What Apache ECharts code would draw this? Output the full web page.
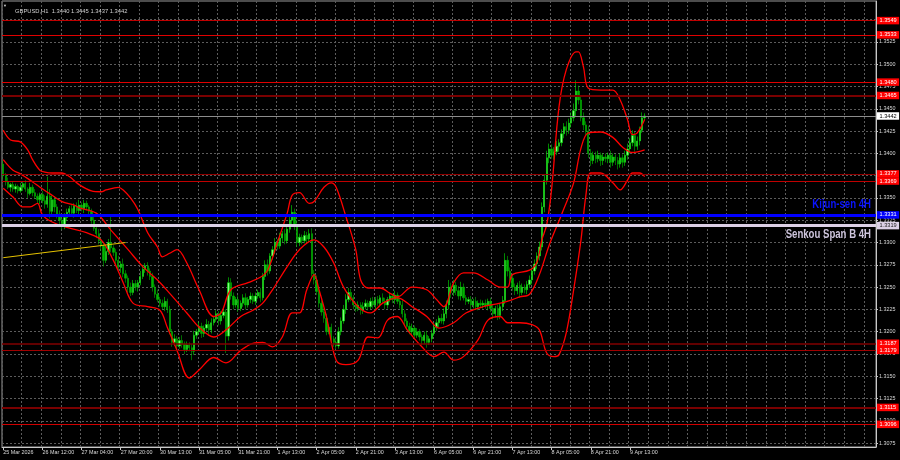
<!DOCTYPE html>
<html>
<head>
<meta charset="utf-8">
<script src="https://cdn.jsdelivr.net/npm/echarts@6/dist/echarts.min.js"></script>
<style>
html,body{margin:0;padding:0;background:#000;}
#c{width:900px;height:460px;}
</style>
</head>
<body>
<div id="c"></div>
<script>
// ---------- DATA ----------
const symbolName = 'GBPUSD,H1';
const tickLabels = ['25 Mar 2026','26 Mar 12:00','27 Mar 04:00','27 Mar 20:00','30 Mar 13:00','31 Mar 05:00','31 Mar 21:00','1 Apr 13:00','2 Apr 05:00','2 Apr 21:00','3 Apr 13:00','6 Apr 05:00','6 Apr 21:00','7 Apr 13:00','8 Apr 05:00','8 Apr 21:00','9 Apr 13:00'];
const yTicks = [1.3075,1.3100,1.3125,1.3150,1.3175,1.3200,1.3225,1.3250,1.3275,1.3300,1.3325,1.3350,1.3375,1.3400,1.3425,1.3450,1.3475,1.3500,1.3525,1.3550];

const firstOpen = 1.3388;
const closes = [
1.3375,1.3368,1.3362,1.3365,1.3360,1.3363,1.3358,1.3362,
1.3366,1.3360,1.3355,1.3362,1.3356,
1.3352,1.3348,1.3354,1.3347,
1.3343,1.3352,1.3335,1.3348,1.3340,1.3332,
1.3325,1.3318,1.3328,1.3334,
1.3338,1.3333,1.3341,1.3336,1.3342,1.3338,1.3344,1.3340,1.3335,
1.3325,1.3316,1.3310,
1.3302,1.3296,1.3280,
1.3290,1.3300,1.3294,1.3289,
1.3280,1.3272,1.3276,1.3265,1.3260,
1.3250,1.3244,1.3254,
1.3250,1.3255,1.3262,
1.3270,1.3274,1.3268,1.3262,
1.3250,1.3242,1.3236,
1.3232,1.3228,1.3234,1.3225,
1.3200,1.3188,
1.3192,1.3184,1.3190,1.3186,1.3180,1.3185,1.3182,
1.3178,1.3196,
1.3200,1.3206,1.3198,1.3204,1.3208,1.3202,1.3210,1.3214,
1.3220,1.3212,1.3218,1.3222,
1.3195,1.3255,
1.3240,1.3230,1.3236,1.3226,
1.3232,1.3238,1.3230,1.3236,1.3240,1.3234,
1.3240,1.3244,1.3238,1.3262,
1.3275,1.3268,1.3285,1.3292,
1.3300,1.3296,1.3305,1.3310,1.3302,1.3315,
1.3325,1.3334,1.3320,
1.3300,1.3306,
1.3302,1.3308,1.3304,1.3310,
1.3265,1.3258,
1.3245,1.3232,1.3222,
1.3215,1.3200,1.3205,1.3192,
1.3188,1.3184,1.3200,
1.3212,1.3225,1.3236,
1.3244,1.3238,1.3230,
1.3226,1.3230,1.3224,1.3228,1.3232,
1.3228,1.3234,1.3230,1.3236,1.3232,1.3238,1.3234,1.3230,1.3236,
1.3240,1.3236,1.3241,1.3234,1.3230,
1.3220,1.3212,1.3206,
1.3200,1.3204,1.3196,1.3200,1.3194,
1.3190,1.3196,1.3188,1.3192,1.3198,1.3205,
1.3210,1.3215,1.3212,1.3220,1.3230,
1.3250,1.3244,1.3252,1.3246,
1.3240,1.3250,1.3238,1.3234,
1.3236,1.3230,1.3234,1.3228,1.3232,1.3230,
1.3232,1.3229,1.3234,1.3226,
1.3220,1.3226,1.3218,
1.3228,1.3235,
1.3280,1.3268,1.3260,1.3250,
1.3246,1.3252,1.3244,1.3250,1.3247,1.3253,1.3258,
1.3268,1.3276,1.3285,1.3295,
1.3340,1.3370,
1.3395,1.3405,1.3398,
1.3402,1.3408,1.3412,
1.3422,1.3430,1.3426,1.3434,
1.3440,1.3448,
1.3470,1.3460,
1.3440,1.3432,1.3425,
1.3400,1.3392,1.3398,
1.3394,1.3398,1.3392,1.3396,
1.3394,1.3398,1.3390,1.3396,1.3392,1.3388,1.3395,
1.3390,1.3398,1.3405,
1.3412,1.3420,1.3408,
1.3414,1.3426,1.3440,
1.3442];
// upper wick above body, in pips
const upWickPips = [
4,3,5,2,4,3,2,5, 3,4,2,5,3, 4,3,2,4, 6,22,8,5,4,3, 4,3,5,4, 3,5,3,4,6,3,4,3,2, 3,4,2, 5,3,4, 6,4,29,3,
4,5,3,6,4, 3,5,4, 4,3,6, 5,3,4,3, 4,3,5, 3,4,5,3, 4,3, 5,3,4,6,3,4,3, 4,5, 3,5,4,3,6,4,5,3, 4,3,5,4,
3,6, 5,4,3,5, 3,4,5,3,4,3, 4,3,5,4, 5,6,3,4, 5,4,6,3,5,4, 6,8,4, 5,4, 3,5,4,5, 6,4, 5,4,3, 4,5,3,4,
3,4,5, 4,5,6, 5,4,3, 3,4,3,5,4, 3,4,5,3,4,3,5,4,3, 4,3,5,3,4, 5,4,3, 4,5,3,4,3, 3,4,5,3,4,5,
4,3,5,6,5, 8,5,6,4, 5,6,4,3, 3,4,3,5,3,4, 3,4,3,4, 5,3,4, 4,5, 8,5,4,5, 4,3,5,4,3,4,5, 4,5,4,6,
5,6, 8,6,5, 5,6,4, 5,4,6,5, 6,8, 12,6, 5,6,4, 6,5,4, 4,5,3,4, 4,3,5,4,3,4,5, 4,5,6, 5,6,4, 5,4,6, 3];
// lower wick below body, in pips
const downWickPips = [
4,4,2,5,3,4,3,2, 4,3,5,2,4, 3,4,5,3, 5,4,8,3,6,5, 6,4,3,4, 4,3,5,3,4,3,5,4,3, 4,3,5, 4,5,7, 3,4,5,4,
5,3,6,4,5, 6,4,3, 4,5,3, 3,4,5,4, 5,4,3, 4,3,5,4, 3,5, 4,6,3,4,5,3,4, 10,4, 4,3,5,4,3,5,4,3, 3,5,4,3,
19,5, 4,5,3,4, 3,4,5,3,4,3, 4,3,5,3, 4,5,3,4, 5,4,3,5,4,3, 4,5,6, 5,4, 4,3,5,4, 3,5, 4,5,4, 5,4,3,6,
5,4,3, 4,3,5, 3,4,5, 4,3,5,4,3, 4,3,4,5,3,4,3,5,4, 3,4,5,3,4, 4,5,4, 3,4,5,3,4, 5,4,6,3,4,3,
4,5,3,4,5, 5,6,4,5, 4,5,3,4, 3,5,4,3,4,3, 4,3,5,4, 6,4,5, 4,5, 4,6,5,4, 5,4,6,3,4,5,4, 5,4,6,5,
4,6, 5,6,4, 5,4,6, 4,5,6,4, 5,4, 6,5, 4,6,5, 5,6,4, 5,4,6,5, 4,5,6,4,5,6,4, 6,4,5, 5,4,6, 4,5,3, 3];

// Bollinger bands: [bar index, price]
const bbUpper = [[0,1.3426],[3,1.3415],[7,1.3413],[10,1.3404],[12,1.3393],[15,1.3381],[17,1.3379],[20,1.3378],[24,1.3378],[27,1.3374],[31,1.3365],[36,1.3358],[40,1.3357],[42,1.3359],[47,1.3362],[49,1.3359],[52,1.3350],[55,1.3337],[59,1.3311],[63,1.3295],[65,1.3284],[68,1.3288],[71,1.3292],[75,1.3277],[80,1.3247],[86,1.3217],[89,1.3221],[93,1.3247],[100,1.3255],[105,1.3261],[108,1.3269],[112,1.3300],[116,1.3333],[118,1.3353],[121,1.3356],[125,1.3344],[127,1.3346],[131,1.3362],[134,1.3367],[136,1.3362],[140,1.3329],[144,1.3292],[146,1.3258],[149,1.3249],[154,1.3249],[158,1.3243],[161,1.3239],[167,1.3250],[173,1.3247],[177,1.3236],[180,1.3228],[184,1.3255],[188,1.3266],[192,1.3266],[198,1.3258],[203,1.3250],[206,1.3250],[208,1.3264],[215,1.3269],[218,1.3278],[220,1.3303],[222,1.3320],[224,1.3360],[227,1.3452],[230,1.3494],[234,1.3514],[235,1.3514],[237,1.3497],[239,1.3473],[244,1.3471],[249,1.3471],[252,1.3460],[255,1.3438],[257,1.3421],[259,1.3423],[262,1.3438]];
const bbMiddle = [[0,1.3393],[4,1.3381],[7,1.3377],[12,1.3368],[15,1.3362],[20,1.3353],[24,1.3346],[29,1.3342],[31,1.3339],[38,1.3333],[44,1.3314],[51,1.3292],[57,1.3273],[63,1.3258],[68,1.3243],[75,1.3221],[80,1.3205],[86,1.3194],[91,1.3202],[97,1.3217],[102,1.3224],[106,1.3232],[110,1.3247],[116,1.3273],[121,1.3292],[127,1.3303],[131,1.3295],[135,1.3277],[139,1.3250],[145,1.3228],[150,1.3221],[155,1.3232],[161,1.3238],[167,1.3228],[173,1.3217],[178,1.3204],[184,1.3210],[189,1.3221],[196,1.3228],[203,1.3232],[208,1.3236],[211,1.3239],[215,1.3242],[219,1.3264],[223,1.3297],[228,1.3331],[233,1.3367],[236,1.3406],[239,1.3423],[244,1.3424],[249,1.3418],[253,1.3407],[257,1.3401],[262,1.3404]];
const bbLower = [[0,1.3361],[4,1.3351],[8,1.3340],[11,1.3340],[14,1.3344],[16,1.3331],[20,1.3323],[26,1.3317],[34,1.3311],[40,1.3303],[45,1.3280],[49,1.3255],[53,1.3232],[59,1.3228],[64,1.3224],[67,1.3205],[71,1.3179],[76,1.3148],[80,1.3157],[86,1.3171],[91,1.3165],[97,1.3179],[102,1.3187],[106,1.3188],[110,1.3183],[114,1.3194],[118,1.3221],[121,1.3221],[124,1.3247],[127,1.3264],[129,1.3247],[132,1.3217],[136,1.3168],[140,1.3163],[145,1.3168],[149,1.3194],[153,1.3193],[157,1.3213],[161,1.3217],[165,1.3202],[171,1.3183],[176,1.3172],[180,1.3177],[184,1.3168],[188,1.3172],[194,1.3191],[198,1.3213],[203,1.3217],[206,1.3210],[211,1.3210],[216,1.3208],[219,1.3202],[222,1.3176],[225,1.3172],[227,1.3174],[230,1.3199],[233,1.3247],[236,1.3303],[238,1.3353],[240,1.3378],[244,1.3378],[249,1.3367],[252,1.3359],[255,1.3370],[257,1.3378],[260,1.3378],[262,1.3374]];
const trendLine = [[0,1.3283],[50,1.3300]];

const levels = [1.3549,1.3533,1.3480,1.3465,1.3377,1.3369,1.3187,1.3179,1.3115,1.3096];
const kijun4H = 1.3331;
const senkouB4H = 1.3319;
const kijunText = 'Kijun-sen 4H';
const senkouText = 'Senkou Span B 4H';

// ---------- BUILD ----------
const TOTAL_SLOTS = 357;
const FONT = "'Liberation Sans', Arial, sans-serif";
const cats = Array.from({length: TOTAL_SLOTS}, (_, i) => String(i));
const opens = [firstOpen].concat(closes.slice(0, -1));
const candles = closes.map((c, i) => {
  const o = opens[i];
  const hi = Math.max(o, c) + upWickPips[i] * 0.0001;
  const lo = Math.min(o, c) - downWickPips[i] * 0.0001;
  return [o, c, +lo.toFixed(5), +hi.toFixed(5)];
});
const last = candles[candles.length - 1];
const headerText = symbolName + '  ' + [last[0], last[3], last[2], last[1]].map(v => v.toFixed(4)).join(' ');

const levelStyles = [
  {color:'#c00000', width:1}, {color:'#e00000', width:1},
  {color:'#e00000', width:1}, {color:'#7a0000', width:2},
  {color:'#900000', width:1}, {color:'#c00000', width:1},
  {color:'#800000', width:1.5}, {color:'#a00000', width:1},
  {color:'#7a0000', width:2}, {color:'#d00000', width:1}
];
const boxLabel = (bg, fg) => ({
  show: true, position: 'end', distance: 1,
  formatter: p => Number(p.value).toFixed(4),
  backgroundColor: bg, color: fg, fontSize: 5.6, fontFamily: FONT,
  padding: [1, 2.5, 0.5, 2.5], lineHeight: 6
});
const markData = levels.map((v, i) => ({
  yAxis: v,
  lineStyle: {color: levelStyles[i].color, width: levelStyles[i].width, type: 'solid'},
  label: boxLabel('#ff0000', '#ffffff')
}));
markData.push({yAxis: last[1], lineStyle: {color: '#8c8c8c', width: 1, type: 'solid'}, label: boxLabel('#ffffff', '#000000')});
markData.push({yAxis: kijun4H, lineStyle: {color: '#0000ff', width: 3, type: 'solid'}, label: boxLabel('#0000ff', '#ffffff')});
markData.push({yAxis: senkouB4H, lineStyle: {color: '#dcd0e6', width: 3, type: 'solid'}, label: boxLabel('#dcd0e6', '#202020')});

const isLabelIdx = i => i % 16 === 0 && (i / 16) < tickLabels.length;
const axisColor = '#c8c8c8';
const gridColor = '#5c5c5c';

const bandSeries = (d) => ({
  type: 'line', data: d, symbol: 'none', smooth: 0.35, silent: true,
  lineStyle: {color: '#ff0000', width: 1.3}, z: 4, animation: false
});

const chart = echarts.init(document.getElementById('c'), null, {renderer: 'canvas'});
const option = {
  backgroundColor: '#000000',
  animation: false,
  title: {
    text: headerText, left: 10, top: 3,
    textStyle: {color: '#d0d0d0', fontSize: 5.8, fontWeight: 'normal', fontFamily: FONT}
  },
  grid: {left: 2, right: 24, top: 1, bottom: 13, show: true, borderColor: '#9a9a9a', borderWidth: 1, backgroundColor: 'transparent'},
  xAxis: {
    type: 'category', data: cats, boundaryGap: true,
    axisLine: {show: true, lineStyle: {color: axisColor}},
    axisTick: {show: true, interval: (i) => isLabelIdx(i), alignWithLabel: true, length: 3, lineStyle: {color: axisColor}},
    axisLabel: {
      interval: (i) => isLabelIdx(i),
      formatter: (v) => tickLabels[Number(v) / 16] || '',
      align: 'left', color: '#d8d8d8', fontSize: 5.4, fontFamily: FONT, margin: 3
    },
    splitLine: {show: true, interval: (i) => i % 8 === 0, lineStyle: {color: gridColor, type: [2, 2], width: 1}}
  },
  yAxis: {
    type: 'value', position: 'right', min: 1.30706, max: 1.3571,
    axisLine: {show: true, lineStyle: {color: axisColor}},
    axisTick: {show: true, customValues: yTicks, length: 2, lineStyle: {color: axisColor}},
    axisLabel: {customValues: yTicks, formatter: v => Number(v).toFixed(4), color: '#d8d8d8', fontSize: 5.4, fontFamily: FONT, margin: 3},
    splitLine: {show: true, lineStyle: {color: gridColor, type: [2, 2], width: 1}}
  },
  series: [
    {
      type: 'candlestick', data: candles, barWidth: 1.8, z: 3,
      itemStyle: {color: '#7dff7d', color0: '#00b400', borderColor: '#00e600', borderColor0: '#00b400', borderWidth: 0.6},
      markLine: {silent: true, symbol: ['none', 'none'], precision: 5, animation: false, data: markData}
    },
    bandSeries(bbUpper),
    bandSeries(bbMiddle),
    bandSeries(bbLower),
    {type: 'line', data: trendLine, symbol: 'none', silent: true, lineStyle: {color: '#e6c200', width: 1}, z: 4}
  ]
};
chart.setOption(option);

const rightEdge = chart.getWidth() - 24 - 5;
const yK = chart.convertToPixel({yAxisIndex: 0}, kijun4H);
const yS = chart.convertToPixel({yAxisIndex: 0}, senkouB4H);
chart.setOption({
  graphic: [
    {type: 'text', x: 3, y: 6, silent: true, style: {text: '\u25BC', fill: '#d0d0d0', font: '4px ' + FONT, textAlign: 'left', textVerticalAlign: 'middle'}},
    {type: 'text', x: rightEdge, y: yK - 10, scaleX: 0.8, silent: true, z: 10,
     style: {text: kijunText, fill: '#0a14ff', font: 'bold 12px ' + FONT, textAlign: 'right', textVerticalAlign: 'middle'}},
    {type: 'text', x: rightEdge, y: yS + 9, scaleX: 0.8, silent: true, z: 10,
     style: {text: senkouText, fill: '#cdc4dc', font: 'bold 12px ' + FONT, textAlign: 'right', textVerticalAlign: 'middle'}}
  ]
});
</script>
</body>
</html>
